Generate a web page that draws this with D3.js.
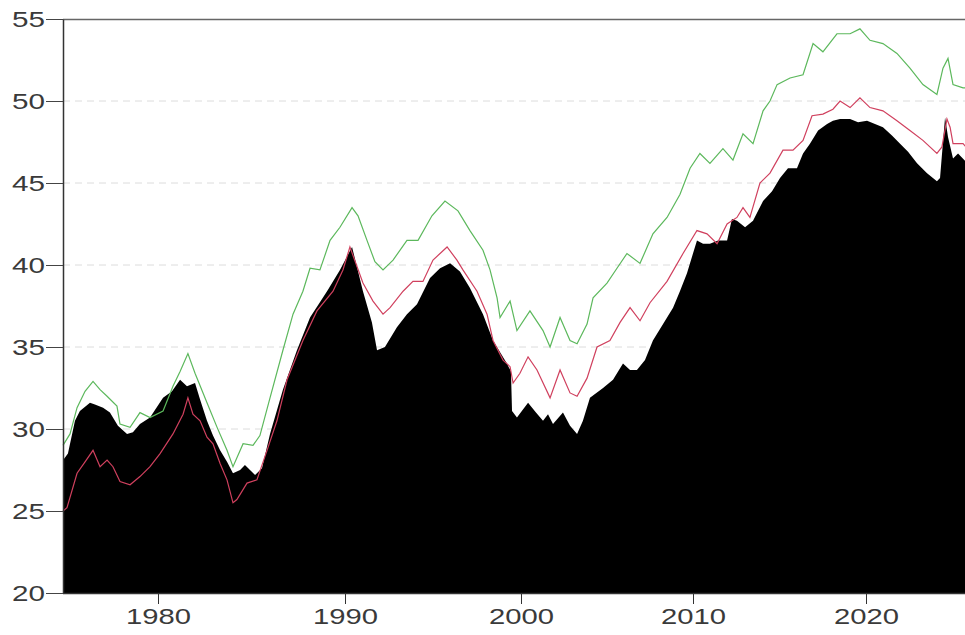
<!DOCTYPE html>
<html>
<head>
<meta charset="utf-8">
<script src="https://cdn.jsdelivr.net/npm/d3@7"></script>
<style>
  body { margin: 0; background: #fff; }
  svg { display: block; }
</style>
</head>
<body>
<div id="chart"></div>
<script>
// black area series
const blackYears = [1975.00,1975.26,1975.63,1975.89,1976.42,1976.68,1977.11,1977.47,1977.89,1978.37,1978.68,1979.05,1979.58,1980.27,1980.75,1981.18,1981.55,1981.98,1982.25,1982.62,1982.94,1983.32,1983.69,1984.01,1984.39,1984.65,1985.19,1985.56,1985.99,1986.68,1987.43,1988.13,1989.04,1989.73,1990.40,1991.02,1991.53,1991.82,1992.27,1992.95,1993.52,1994.09,1994.83,1995.40,1995.97,1996.53,1997.10,1997.84,1998.41,1999.20,1999.43,1999.49,1999.77,2000.41,2000.87,2001.28,2001.57,2001.86,2002.44,2002.85,2003.26,2003.60,2004.01,2004.77,2005.35,2005.93,2006.34,2006.74,2007.21,2007.67,2008.26,2008.84,2009.24,2009.65,2010.23,2010.58,2010.98,2011.45,2011.97,2012.25,2012.54,2013.01,2013.47,2014.05,2014.57,2015.03,2015.49,2016.01,2016.36,2016.76,2017.23,2017.75,2018.09,2018.50,2019.08,2019.54,2020.06,2020.52,2020.98,2021.50,2021.97,2022.43,2022.95,2023.53,2024.10,2024.28,2024.45,2024.57,2024.74,2025.03,2025.32,2025.78];
const blackVals = [28.1,28.5,30.5,31.1,31.6,31.5,31.3,31.0,30.2,29.7,29.8,30.3,30.7,31.9,32.3,33.0,32.6,32.8,31.8,30.5,29.6,28.7,28.0,27.3,27.5,27.8,27.2,27.6,29.7,32.4,34.8,36.8,38.4,39.7,41.1,38.4,36.5,34.8,35.0,36.2,37.0,37.6,39.2,39.8,40.1,39.6,38.6,37.0,35.4,34.0,33.5,31.1,30.7,31.6,31.0,30.5,30.9,30.3,31.0,30.2,29.7,30.5,31.9,32.5,33.0,34.0,33.6,33.6,34.2,35.4,36.4,37.4,38.4,39.5,41.5,41.3,41.3,41.5,41.5,42.8,42.7,42.3,42.7,43.9,44.5,45.3,45.9,45.9,46.8,47.4,48.2,48.6,48.8,48.9,48.9,48.7,48.8,48.6,48.4,47.9,47.4,46.9,46.2,45.6,45.1,45.3,47.5,49.0,47.8,46.5,46.8,46.3];

// red line series
const redYears = [1975.00,1975.21,1975.74,1976.16,1976.58,1976.95,1977.32,1977.63,1978.00,1978.53,1979.05,1979.58,1980.11,1980.80,1981.34,1981.60,1981.87,1982.25,1982.62,1982.94,1983.32,1983.69,1984.01,1984.22,1984.76,1985.29,1985.83,1986.36,1986.90,1987.75,1988.50,1989.36,1989.89,1990.28,1991.02,1991.59,1992.16,1992.56,1993.30,1993.86,1994.43,1995.00,1995.80,1996.36,1996.70,1997.50,1998.07,1998.41,1998.98,1999.38,1999.55,1999.94,2000.41,2000.93,2001.69,2002.27,2002.85,2003.26,2003.84,2004.42,2005.17,2005.76,2006.34,2006.92,2007.50,2008.49,2009.42,2010.23,2010.81,2011.39,2011.97,2012.54,2012.89,2013.29,2013.87,2014.45,2015.20,2015.78,2016.36,2016.88,2017.51,2018.09,2018.50,2019.08,2019.65,2020.23,2020.98,2021.79,2022.54,2023.29,2024.10,2024.39,2024.68,2024.86,2025.03,2025.61,2025.78];
const redVals = [25.0,25.2,27.3,28.0,28.7,27.7,28.1,27.7,26.8,26.6,27.1,27.7,28.5,29.7,30.9,31.9,30.9,30.5,29.5,29.1,27.9,26.9,25.5,25.7,26.7,26.9,28.7,30.5,33.0,35.4,37.2,38.4,39.7,41.1,38.9,37.8,37.0,37.4,38.4,39.0,39.0,40.3,41.1,40.3,39.7,38.4,37.0,35.4,34.2,33.8,32.8,33.4,34.4,33.6,31.9,33.6,32.2,32.0,33.1,35.0,35.4,36.5,37.4,36.6,37.7,39.0,40.7,42.1,41.9,41.3,42.5,42.9,43.5,42.9,45.0,45.6,47.0,47.0,47.6,49.1,49.2,49.5,50.0,49.6,50.2,49.6,49.4,48.8,48.2,47.6,46.8,47.2,48.9,48.4,47.4,47.4,47.2];

// green line series
const greenYears = [1975.00,1975.37,1975.74,1976.16,1976.58,1976.95,1977.32,1977.84,1978.00,1978.53,1979.05,1979.58,1980.27,1980.80,1981.18,1981.60,1981.98,1982.62,1983.16,1983.69,1984.01,1984.55,1985.08,1985.45,1985.99,1986.68,1987.22,1987.75,1988.13,1988.66,1989.20,1989.73,1990.40,1990.74,1991.25,1991.70,1992.16,1992.73,1993.52,1994.15,1994.94,1995.68,1996.42,1997.10,1997.84,1998.24,1998.64,1998.81,1999.38,1999.77,2000.52,2001.28,2001.69,2002.27,2002.85,2003.26,2003.84,2004.19,2005.00,2005.58,2006.16,2006.92,2007.67,2008.49,2009.24,2009.83,2010.40,2010.98,2011.73,2012.31,2012.89,2013.47,2014.05,2014.45,2014.86,2015.61,2016.36,2016.94,2017.51,2018.32,2019.08,2019.65,2020.23,2020.98,2021.79,2022.54,2023.29,2024.10,2024.45,2024.74,2025.03,2025.61,2025.78];
const greenVals = [29.0,29.7,31.3,32.3,32.9,32.4,32.0,31.4,30.3,30.1,31.0,30.7,31.1,32.6,33.5,34.6,33.4,31.6,30.1,28.7,27.7,29.1,29.0,29.6,31.9,34.8,37.0,38.4,39.8,39.7,41.5,42.3,43.5,43.0,41.5,40.2,39.7,40.3,41.5,41.5,43.0,43.9,43.3,42.1,40.9,39.7,38.0,36.8,37.8,36.0,37.2,36.0,35.0,36.8,35.4,35.2,36.4,38.0,38.9,39.8,40.7,40.1,41.9,42.9,44.3,45.9,46.8,46.2,47.1,46.4,48.0,47.4,49.4,50.0,51.0,51.4,51.6,53.5,53.0,54.1,54.1,54.4,53.7,53.5,52.9,52.0,51.0,50.4,52.0,52.6,51.0,50.8,50.8];

const yTicks = [20, 25, 30, 35, 40, 45, 50, 55];
const gridTicks = [25, 30, 35, 40, 45, 50];
const xTicks = [1980, 1990, 2000, 2010, 2020];

const W = 965, H = 635;

const svg = d3.select("#chart").append("svg")
    .attr("width", W)
    .attr("height", H);

// x axis spacing in the picture is not even, so piecewise scale
const x = d3.scaleLinear()
    .domain([1975, 1980, 1990, 2000, 2010, 2020])
    .range([63, 158, 345, 521, 693, 866]);

const y = d3.scaleLinear()
    .domain([20, 55])
    .range([593, 19]);

// gridlines
svg.append("g")
    .selectAll("line")
    .data(gridTicks)
    .enter()
    .append("line")
    .attr("x1", x(1975))
    .attr("x2", W)
    .attr("y1", d => y(d))
    .attr("y2", d => y(d))
    .attr("stroke", "#dcdcdc")
    .attr("stroke-width", 1)
    .attr("stroke-dasharray", "7,5");

const toPts = (ys, vs) => ys.map((d, i) => ({ t: d, v: vs[i] }));

const area = d3.area()
    .x(d => x(d.t))
    .y0(y(20))
    .y1(d => y(d.v));

svg.append("path")
    .datum(toPts(blackYears, blackVals))
    .attr("d", area)
    .attr("fill", "#000");

const line = d3.line()
    .x(d => x(d.t))
    .y(d => y(d.v));

svg.append("path")
    .datum(toPts(redYears, redVals))
    .attr("d", line)
    .attr("fill", "none")
    .attr("stroke", "#d0405e")
    .attr("stroke-width", 1.2);

svg.append("path")
    .datum(toPts(greenYears, greenVals))
    .attr("d", line)
    .attr("fill", "none")
    .attr("stroke", "#5cb85c")
    .attr("stroke-width", 1.2);

// top frame line
svg.append("line")
    .attr("x1", x(1975))
    .attr("x2", W)
    .attr("y1", y(55) + 0.5)
    .attr("y2", y(55) + 0.5)
    .attr("stroke", "#666")
    .attr("stroke-width", 1.5);

// y axis
const yAxis = svg.append("g")
    .attr("transform", `translate(${x(1975)},0)`)
    .call(d3.axisLeft(y).tickValues(yTicks).tickSize(17).tickPadding(1).tickSizeOuter(0));

yAxis.select(".domain").attr("stroke", "#333").attr("stroke-width", 1.5);
yAxis.selectAll(".tick line").attr("stroke", "#444");
yAxis.selectAll(".tick text")
    .attr("font-family", "'Liberation Sans', Arial, sans-serif")
    .attr("font-size", 22)
    .attr("fill", "#3a3a3a")
    .attr("textLength", 33)
    .attr("lengthAdjust", "spacingAndGlyphs");

// x axis
const xAxis = svg.append("g")
    .attr("transform", `translate(0,${y(20)})`)
    .call(d3.axisBottom(x).tickValues(xTicks).tickFormat(d3.format("d")).tickSize(11).tickPadding(4).tickSizeOuter(0));

xAxis.select(".domain").attr("d", `M${x(1975)},0.5H${W}`).attr("stroke", "#333").attr("stroke-width", 1.5);
xAxis.selectAll(".tick line").attr("stroke", "#333");
xAxis.selectAll(".tick text")
    .attr("font-family", "'Liberation Sans', Arial, sans-serif")
    .attr("font-size", 22)
    .attr("fill", "#3a3a3a")
    .attr("textLength", 65)
    .attr("lengthAdjust", "spacingAndGlyphs");
</script>
</body>
</html>
